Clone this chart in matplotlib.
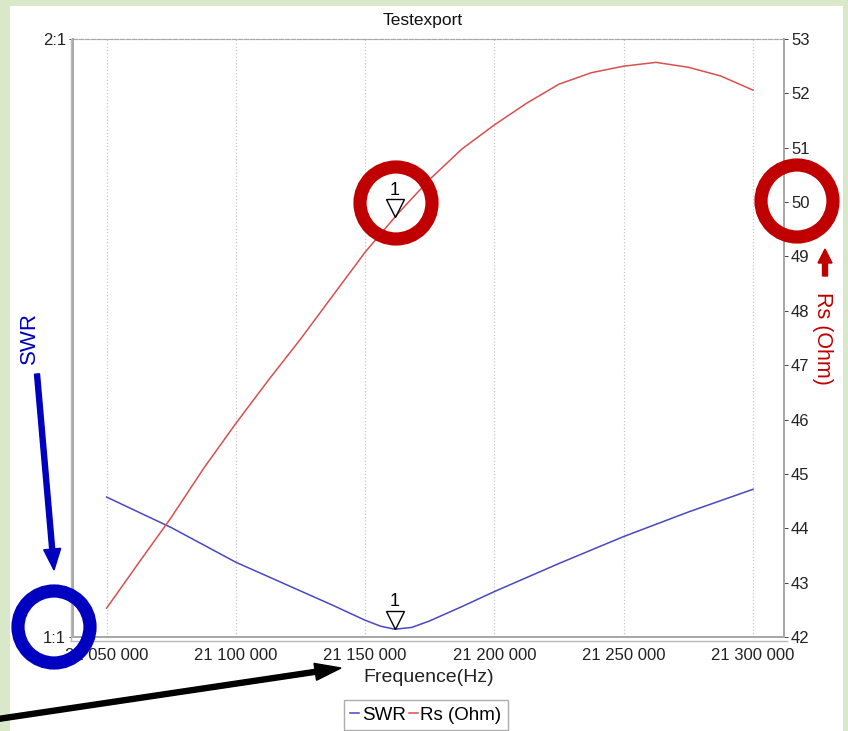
import matplotlib
matplotlib.use('Agg')
import matplotlib.pyplot as plt
from matplotlib.patches import Rectangle, Circle, FancyArrow
from matplotlib.ticker import FuncFormatter
from matplotlib.transforms import offset_copy, IdentityTransform

plt.rcParams['font.family'] = ['Liberation Sans', 'DejaVu Sans']

# Rs (Ohm)
freq_rs = [21050000, 21062500, 21075000, 21087500, 21100000, 21112500, 21125000,
           21137500, 21150000, 21162500, 21175000, 21187500, 21200000, 21212500,
           21225000, 21237500, 21250000, 21262500, 21275000, 21287500, 21300000]
rs_vals = [42.53, 43.37, 44.20, 45.10, 45.93, 46.72, 47.48,
           48.28, 49.08, 49.78, 50.42, 50.98, 51.42, 51.82,
           52.17, 52.38, 52.50, 52.57, 52.48, 52.32, 52.06]

# SWR
freq_swr = [21050000, 21075000, 21100000, 21125000, 21137500, 21150000, 21156000,
            21161500, 21168000, 21175000, 21187500, 21200000, 21225000, 21250000,
            21275000, 21300000]
swr_vals = [1.234, 1.183, 1.125, 1.077, 1.053, 1.028, 1.018,
            1.013, 1.016, 1.027, 1.051, 1.076, 1.123, 1.168,
            1.209, 1.247]

marker_freq = 21161500
marker_swr = 1.013
marker_rs = 49.72

x_ticks = [21050000, 21100000, 21150000, 21200000, 21250000, 21300000]
rs_ticks = list(range(42, 54))

W, H = 848, 731
fig = plt.figure(figsize=(W / 100, H / 100), dpi=100)
fig.patch.set_facecolor('#d9e8c9')
fig.add_artist(Rectangle((10 / W, 0), 833 / W, 1 - 6 / H, transform=fig.transFigure,
                         facecolor='white', edgecolor='none', zorder=-10))

ax = fig.add_axes([73 / W, 1 - 637 / H, 711 / W, 598 / H])
ax2 = ax.twinx()

ax.set_xlim(21037000, 21312000)
ax.set_ylim(1, 2)
ax2.set_ylim(42, 53)

ax.plot(freq_swr, swr_vals, color='#4848c0', lw=1.1, zorder=3)
ax2.plot(freq_rs, rs_vals, color='#d85050', lw=1.1, zorder=3)

# markers "1"
for a, yv in ((ax, marker_swr), (ax2, marker_rs)):
    tr = offset_copy(a.transData, fig=fig, x=0, y=6.5, units='points')
    a.plot([marker_freq], [yv], marker='v', ms=13, mfc='none', mec='black',
           mew=1.0, transform=tr, zorder=5)
    a.annotate('1', (marker_freq, yv), xytext=(0, 13.5), textcoords='offset points',
               ha='center', va='bottom', fontsize=13, zorder=5)

ax.set_xticks(x_ticks)
ax.xaxis.set_major_formatter(FuncFormatter(lambda v, p: f"{v:,.0f}".replace(',', ' ')))
ax.grid(axis='x', color='#c8c8c8', linestyle=':', lw=0.9)
ax.set_yticks([1, 2])
ax.set_yticklabels(['1:1', '2:1'])
ax2.set_yticks(rs_ticks)

for a in (ax, ax2):
    a.tick_params(axis='both', labelsize=12, colors='#222222', length=3, width=0.6)
    for s in a.spines.values():
        s.set_color('#a8a8a8')
        s.set_linewidth(1.4)
    a.spines['top'].set_linestyle('--')
    a.spines['top'].set_linewidth(0.8)
ax.tick_params(axis='x', length=0, pad=8)
ax.tick_params(axis='y', pad=2)
ax2.tick_params(axis='y', pad=2)

# second grey frame line just outside left and bottom, like the screenshot
fig.add_artist(plt.Line2D([70.5 / W, 70.5 / W], [1 - 641 / H, 1 - 39 / H],
                          color='#b8b8b8', lw=1.0))
fig.add_artist(plt.Line2D([70.5 / W, 787 / W], [1 - 641 / H, 1 - 641 / H],
                          color='#b8b8b8', lw=1.0))

ax.set_xlabel('Frequence(Hz)', fontsize=14, labelpad=4, color='#222222')
fig.text(423 / W, 1 - 20 / H, 'Testexport', ha='center', va='center', fontsize=12.5,
         color='#111111')

fig.legend(handles=ax.get_lines()[:1] + ax2.get_lines()[:1], labels=['SWR', 'Rs (Ohm)'],
           loc='upper center', bbox_to_anchor=(426 / W, 1 - 700 / H), ncol=2,
           handlelength=0.45, handletextpad=0.15, columnspacing=0.2, fontsize=13.5,
           frameon=True, fancybox=False, edgecolor='#999999', borderpad=0.35,
           borderaxespad=0)

# hand-drawn highlights on top of the screenshot (pixel space)
blue = '#0000c0'
red = '#c00000'
for (cx, cy), col in (((54, 627), blue), ((396, 203), red), ((797, 201), red)):
    fig.add_artist(Circle((cx, H - cy), 36, transform=IdentityTransform(), fill=False,
                          edgecolor=col, lw=9.5, zorder=20))


def arrow(x0, y0, x1, y1, col, w, hw, hl):
    fig.add_artist(FancyArrow(x0, H - y0, x1 - x0, -(y1 - y0), width=w, head_width=hw,
                              head_length=hl, length_includes_head=True,
                              transform=IdentityTransform(), color=col, zorder=20))


arrow(37, 374, 54, 570, blue, 5, 17, 21)
arrow(825, 276, 825, 249, red, 5, 14, 14)
arrow(-2, 719, 341, 668, 'black', 5, 17, 26)

fig.text(29 / W, 1 - 338 / H, 'SWR', rotation=90, ha='center', va='center',
         fontsize=16, color=blue)
fig.text(822 / W, 1 - 338 / H, 'Rs (Ohm)', rotation=-90, ha='center', va='center',
         fontsize=15.5, color=red)

fig.savefig('out.png', dpi=100, facecolor=fig.get_facecolor())
